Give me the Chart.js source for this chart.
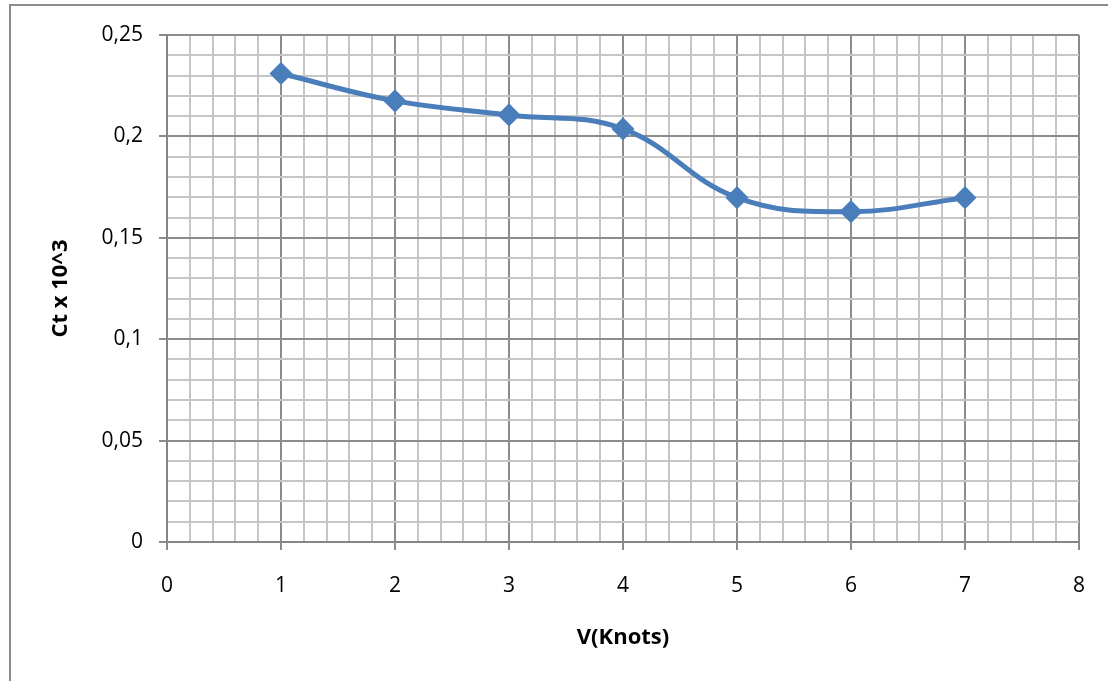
<!DOCTYPE html>
<html>
<head>
<meta charset="utf-8">
<title>Ct x 10^3 vs V(Knots)</title>
<script src="https://cdn.jsdelivr.net/npm/chart.js@4/dist/chart.umd.min.js"></script>
<style>
  html, body { margin: 0; padding: 0; background: #fff; }
  #wrap { width: 1108px; height: 681px; }
</style>
</head>
<body>
<div id="wrap"><canvas id="ctChart" width="1108" height="681"></canvas></div>
<script>
// speed in knots and measured Ct (x10^3)
const speeds = [1, 2, 3, 4, 5, 6, 7];
const ctValues = [0.231, 0.2175, 0.2106, 0.2037, 0.1698, 0.1629, 0.1698];

// axis tick labels (major ticks only)
const xTickLabels = ['0', '1', '2', '3', '4', '5', '6', '7', '8'];
const yTickLabels = ['0', '0,05', '0,1', '0,15', '0,2', '0,25'];

const fontFamily = "'Open Sans', sans-serif";
const majorGrid = '#8c8c8c';
const minorGrid = '#c6c6c6';

function isMajorX(v) { return Math.abs(v - Math.round(v)) < 1e-6; }
function isMajorY(v) { return Math.round(v * 100) % 5 === 0; }

// grey frame around the whole chart (right/bottom edges fall off the page)
const framePlugin = {
  id: 'frame',
  beforeDraw(chart) {
    const ctx = chart.ctx;
    ctx.save();
    ctx.fillStyle = '#fff';
    ctx.fillRect(0, 0, chart.width, chart.height);
    ctx.strokeStyle = '#8c8c8c';
    ctx.lineWidth = 2;
    ctx.strokeRect(10, 5, chart.width + 20, chart.height + 20);
    ctx.restore();
  }
};

const ctx = document.getElementById('ctChart').getContext('2d');
const ctChart = new Chart(ctx, {
  type: 'line',
  data: {
    datasets: [{
      label: 'Ct',
      data: speeds.map((v, i) => ({ x: v, y: ctValues[i] })),
      borderColor: '#4a7ebb',
      backgroundColor: '#4a7ebb',
      borderWidth: 5,
      tension: 0.4,
      pointStyle: 'rectRot',
      pointRadius: 8,
      pointHoverRadius: 8,
      fill: false,
      clip: false
    }]
  },
  options: {
    responsive: false,
    devicePixelRatio: 1,
    animation: false,
    layout: { padding: { left: 0, top: 35, right: 28, bottom: 0 } },
    plugins: {
      legend: { display: false },
      tooltip: { enabled: false }
    },
    scales: {
      x: {
        type: 'linear',
        min: 0,
        max: 8,
        afterFit: s => { s.height = 139; },
        ticks: {
          stepSize: 0.2,
          autoSkip: false,
          maxTicksLimit: 100,
          maxRotation: 0,
          padding: 23,
          color: '#000',
          font: { family: fontFamily, size: 21 },
          callback: v => isMajorX(v) ? xTickLabels[Math.round(v)] : ''
        },
        grid: {
          lineWidth: 2,
          color: c => isMajorX(c.tick.value) ? majorGrid : minorGrid,
          tickColor: c => isMajorX(c.tick.value) ? majorGrid : 'rgba(0,0,0,0)',
          tickLength: 8
        },
        border: { color: '#868686', width: 2 },
        title: {
          display: true,
          text: 'V(Knots)',
          color: '#000',
          font: { family: fontFamily, size: 22, weight: 'bold' },
          padding: { top: 0, bottom: 30 }
        }
      },
      y: {
        type: 'linear',
        min: 0,
        max: 0.25,
        afterFit: s => { s.width = 167; },
        ticks: {
          stepSize: 0.01,
          autoSkip: false,
          maxTicksLimit: 100,
          padding: 16,
          color: '#000',
          font: { family: fontFamily, size: 21 },
          callback: v => isMajorY(v) ? yTickLabels[Math.round(v * 20)] : ''
        },
        grid: {
          lineWidth: 2,
          color: c => isMajorY(c.tick.value) ? majorGrid : minorGrid,
          tickColor: c => isMajorY(c.tick.value) ? majorGrid : 'rgba(0,0,0,0)',
          tickLength: 8
        },
        border: { color: '#868686', width: 2 },
        title: {
          display: true,
          text: 'Ct x 10^3',
          color: '#000',
          font: { family: fontFamily, size: 22, weight: 'bold' },
          padding: { top: 48, bottom: 0 }
        }
      }
    }
  },
  plugins: [framePlugin]
});
</script>
</body>
</html>
